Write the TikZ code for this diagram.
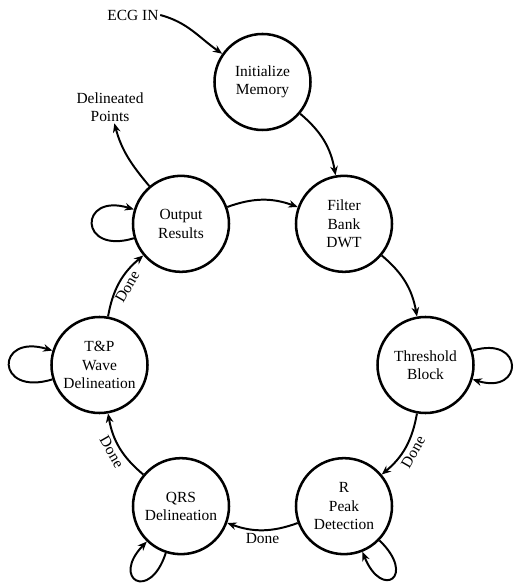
\documentclass[tikz,border=0pt]{standalone}
\usepackage{fontspec}
\setmainfont{Liberation Serif}
\usetikzlibrary{arrows.meta}
\begin{document}
\begin{tikzpicture}[
    stage/.style={draw, circle, line width=1.8pt, minimum size=2.4cm, inner sep=1pt, align=center},
    plain/.style={align=center, inner sep=1pt},
    donelabel/.style={auto, swap, sloped, inner sep=2pt},
    font=\fontsize{11}{13}\selectfont]
  \useasboundingbox (-6.5625,-5.55) rectangle (6.2875,9.125);
  \draw
    (0:4.075) node[stage] (thresh){Threshold\\Block}
    (60:4.075) node[stage] (filter){Filter\\Bank\\DWT}
    (120:4.075) node[stage] (output){Output\\Results}
    (180:4.075) node[stage] (tpwave){T\&P\\Wave\\Delineation}
    (240:4.075) node[stage] (qrs){QRS\\Delineation}
    (300:4.075) node[stage] (rpeak){R\\Peak\\Detection}
    (90:7.075) node[stage] (init){Initialize\\Memory}
    (-3.2375,8.75) node[plain] (ecg){ECG IN}
    (-3.8125,6.45) node[plain] (delin){Delineated\\Points};
  \begin{scope}[->, line width=1.4pt, >={Stealth[length=2.3mm,width=1.9mm]}]
    \draw (ecg.east) to[out=-15,in=145] (init);
    \draw (init) to[bend left=20] (filter);
    \draw (output) to[bend left=20] (filter);
    \draw (filter) to[bend left=20] (thresh);
    \draw (thresh) to[bend left=20] node[donelabel]{Done} (rpeak);
    \draw (rpeak) to[bend left=20] node[donelabel]{Done} (qrs);
    \draw (qrs) to[bend left=20] node[donelabel]{Done} (tpwave);
    \draw (tpwave) to[bend left=20] node[donelabel]{Done} (output);
    \draw (output) to[out=130,in=-75] (delin);
    \draw (output) to[out=197,in=163,distance=1.45cm] (output);
    \draw (tpwave) to[out=197,in=163,distance=1.5cm] (tpwave);
    \draw (thresh) to[out=17,in=-17,distance=1.35cm] (thresh);
    \draw (qrs) to[out=252,in=226,distance=1.3cm] (qrs);
    \draw (rpeak) to[out=316,in=292,distance=1.3cm] (rpeak);
  \end{scope}
\end{tikzpicture}
\end{document}
